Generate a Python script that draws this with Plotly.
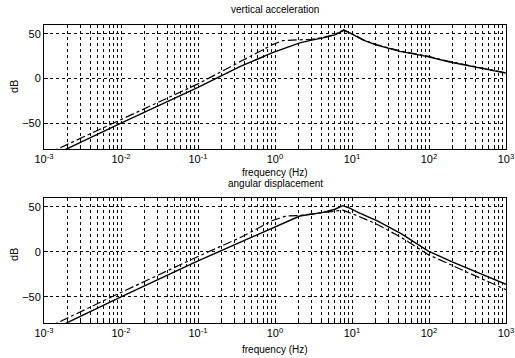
import plotly.graph_objects as go

# ---- data ----
acc_freq_solid = [0.001, 0.01, 0.1, 0.355, 0.93, 2.1, 3.0, 4.2, 6.0, 7.8, 9.5, 14, 21, 42, 93, 186, 1000]
acc_db_solid   = [-91, -50, -10, 13.5, 29, 40, 43, 45.5, 49, 54, 51, 43, 37.5, 30.5, 24.8, 18.5, 6]
acc_freq_dash  = [0.001, 0.01, 0.1, 0.355, 0.93, 1.26, 2.1, 3.0, 4.2, 6.0, 7.8, 9.5, 14, 21, 42, 93, 186, 1000]
acc_db_dash    = [-86, -46, -6, 19, 38, 42.5, 43, 44, 46, 49.5, 54.5, 51.5, 43.5, 38, 31, 25.3, 19, 6.5]

ang_freq_solid = [0.001, 0.01, 0.1, 0.355, 0.93, 2.1, 4.2, 6.0, 7.6, 9.5, 12, 22, 44, 98, 200, 1000]
ang_db_solid   = [-91, -50, -10, 11, 27, 40, 44, 47.5, 51.5, 48.5, 44, 34, 20, 1, -11, -36]
ang_freq_dash  = [0.001, 0.01, 0.1, 0.355, 0.93, 1.4, 2.1, 4.2, 6.0, 7.6, 9.0, 12, 22, 44, 98, 200, 1000]
ang_db_dash    = [-86, -45, -5, 16, 35, 40, 40.5, 44, 45.5, 46.5, 44, 40, 30, 16, -3, -15, -42]

titles = ["vertical acceleration", "angular displacement"]
x_label = "frequency (Hz)"
y_label = "dB"
x_tick_vals = [0.001, 0.01, 0.1, 1, 10, 100, 1000]
x_tick_text = ["10<sup>-3</sup>", "10<sup>-2</sup>", "10<sup>-1</sup>", "10<sup>0</sup>",
               "10<sup>1</sup>", "10<sup>2</sup>", "10<sup>3</sup>"]
y_ticks = [-50, 0, 50]
x_range_log = [-3, 3]
y_range = [-79, 60]

fig = go.Figure()

line_solid = dict(color="black", width=1.4)
line_dash = dict(color="black", width=1.2, dash="dashdot")

fig.add_trace(go.Scatter(x=acc_freq_solid, y=acc_db_solid, mode="lines", line=line_solid,
                         xaxis="x", yaxis="y", showlegend=False))
fig.add_trace(go.Scatter(x=acc_freq_dash, y=acc_db_dash, mode="lines", line=line_dash,
                         xaxis="x", yaxis="y", showlegend=False))
fig.add_trace(go.Scatter(x=ang_freq_solid, y=ang_db_solid, mode="lines", line=line_solid,
                         xaxis="x2", yaxis="y2", showlegend=False))
fig.add_trace(go.Scatter(x=ang_freq_dash, y=ang_db_dash, mode="lines", line=line_dash,
                         xaxis="x2", yaxis="y2", showlegend=False))

W, H = 515, 358
xdom = [44 / W, 506 / W]
ydom_top = [(H - 149) / H, (H - 25) / H]
ydom_bot = [(H - 323) / H, (H - 198) / H]

font = dict(family="Liberation Sans, Arial, sans-serif", size=11, color="black")

xcommon = dict(type="log", range=x_range_log, tickvals=x_tick_vals, ticktext=x_tick_text,
               showgrid=True, gridcolor="black", griddash="dot", gridwidth=1,
               minor=dict(dtick="D1", showgrid=True, gridcolor="black", griddash="dot",
                          gridwidth=1, ticks="inside", ticklen=2, tickcolor="black"),
               showline=True, linecolor="black", linewidth=1, mirror=True,
               ticks="inside", ticklen=4, tickcolor="black", tickfont=font,
               zeroline=False, domain=xdom, automargin=False)
ycommon = dict(range=y_range, tickvals=y_ticks, showgrid=True, gridcolor="black",
               griddash="dot", gridwidth=1, showline=True, linecolor="black",
               linewidth=1, mirror=True, ticks="inside", ticklen=4, tickcolor="black",
               tickfont=font, zeroline=False, automargin=False)

fig.update_layout(
    width=W, height=H,
    margin=dict(l=0, r=0, t=0, b=0, autoexpand=False),
    paper_bgcolor="white", plot_bgcolor="white",
    hovermode=False,
    xaxis=dict(**xcommon, anchor="y"),
    yaxis=dict(**ycommon, domain=ydom_top, anchor="x"),
    xaxis2=dict(**xcommon, anchor="y2"),
    yaxis2=dict(**ycommon, domain=ydom_bot, anchor="x2"),
    font=font,
)

xc = (xdom[0] + xdom[1]) / 2
ann = [
    dict(text=titles[0], x=xc, y=(H - 9) / H),
    dict(text=x_label, x=xc, y=(H - 172) / H),
    dict(text=titles[1], x=xc, y=(H - 183.5) / H),
    dict(text=x_label, x=xc, y=(H - 349) / H),
]
for a in ann:
    fig.add_annotation(text=a["text"], x=a["x"], y=a["y"], xref="paper", yref="paper",
                       showarrow=False, xanchor="center", yanchor="middle",
                       font=dict(family=font["family"], size=10, color="black"))
for yc in [(H - 87) / H, (H - 255) / H]:
    fig.add_annotation(text=y_label, x=14 / W, y=yc, xref="paper", yref="paper",
                       showarrow=False, textangle=-90, xanchor="center", yanchor="middle",
                       font=dict(family=font["family"], size=11, color="black"))

fig.write_html("out.html", config={"displayModeBar": False, "staticPlot": True},
               post_script="document.body.style.margin='0';document.body.style.overflow='hidden';")
